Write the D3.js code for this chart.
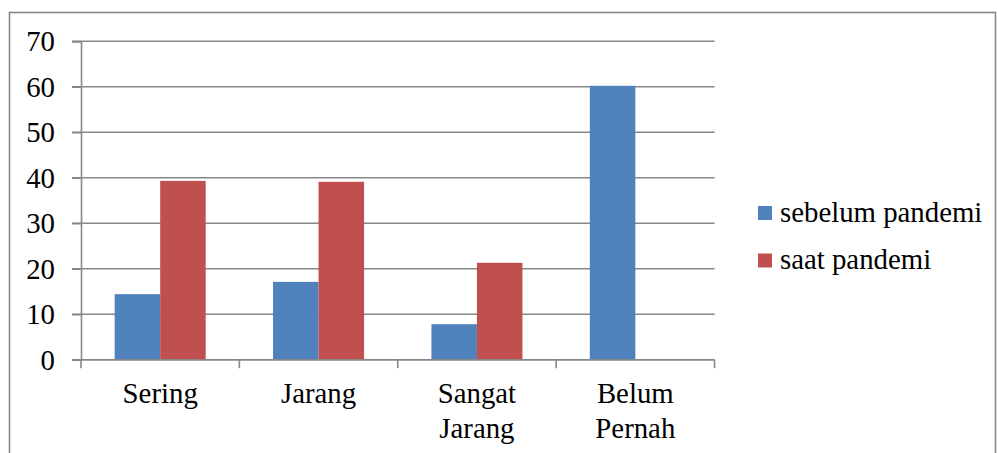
<!DOCTYPE html>
<html>
<head>
<meta charset="utf-8">
<script src="https://cdn.jsdelivr.net/npm/d3@7"></script>
<style>
  html, body { margin: 0; padding: 0; background: #fff; }
  svg { display: block; }
  svg text { font-family: "Liberation Serif", "Times New Roman", serif !important; fill: #000; }
</style>
</head>
<body>
<svg id="chart" width="997" height="453" font-family="Liberation Serif, serif"></svg>
<script>
const categories = [["Sering"], ["Jarang"], ["Sangat", "Jarang"], ["Belum", "Pernah"]];
const seriesNames = ["sebelum pandemi", "saat pandemi"];
const sebelumPandemi = [14.4, 17.1, 7.8, 60.2];
const saatPandemi = [39.3, 39.1, 21.3, 0];
const yTicks = [0, 10, 20, 30, 40, 50, 60, 70];
const colors = ["#4F81BD", "#C0504D"];

const svg = d3.select("#chart");
const fontFam = '"Liberation Serif", "Times New Roman", serif';
const fontSize = 28.8;
const gridColor = "#878787";

// outer chart border
svg.append("rect")
  .attr("x", 9.5).attr("y", 12.5)
  .attr("width", 986).attr("height", 460)
  .attr("fill", "none").attr("stroke", "#878787").attr("stroke-width", 1.6);

const catKeys = categories.map(c => c.join(" "));
const x = d3.scaleBand().domain(catKeys).range([81, 714.5]).paddingInner(0).paddingOuter(0);
const xi = d3.scaleBand().domain(seriesNames).range([0, x.bandwidth()]).paddingInner(0).paddingOuter(0.74);
const y = d3.scaleLinear().domain([0, 70]).range([359.7, 41.2]);

// gridlines
svg.append("g").selectAll("line").data(yTicks).join("line")
  .attr("x1", 72).attr("x2", 714.5)
  .attr("y1", d => y(d)).attr("y2", d => y(d))
  .attr("stroke", gridColor).attr("stroke-width", 1.6);

// y axis
const yAxis = svg.append("g").attr("transform", "translate(81,0)")
  .call(d3.axisLeft(y).tickValues(yTicks).tickSize(9).tickPadding(17).tickFormat(d3.format("d")));
yAxis.attr("font-family", fontFam).attr("font-size", fontSize);
yAxis.select(".domain").attr("stroke", gridColor).attr("stroke-width", 1.6);
yAxis.selectAll(".tick line").attr("stroke", gridColor).attr("stroke-width", 1.6);
yAxis.selectAll(".tick text")
  .style("font-family", fontFam)
  .style("font-size", fontSize + "px").attr("fill", "#000").attr("dy", "0.34em");

// bars
const data = catKeys.map((k, i) => ({ key: k, values: [sebelumPandemi[i], saatPandemi[i]] }));
const groups = svg.append("g").selectAll("g").data(data).join("g")
  .attr("transform", d => `translate(${x(d.key)},0)`);
groups.selectAll("rect").data(d => d.values.map((v, j) => ({ name: seriesNames[j], v, j })))
  .join("rect")
  .attr("x", d => xi(d.name))
  .attr("width", xi.bandwidth())
  .attr("y", d => y(d.v))
  .attr("height", d => y(0) - y(d.v))
  .attr("fill", d => colors[d.j]);

// x axis line
const xAxis = svg.append("g").attr("transform", `translate(0,${y(0)})`);
xAxis.append("line").attr("x1", 72).attr("x2", 714.5).attr("y1", 0).attr("y2", 0)
  .attr("stroke", gridColor).attr("stroke-width", 1.6);
const boundaries = catKeys.map(k => x(k)).concat([x(catKeys[catKeys.length - 1]) + x.bandwidth()]);
xAxis.selectAll("line.tick").data(boundaries).join("line").attr("class", "tick")
  .attr("x1", d => d).attr("x2", d => d).attr("y1", 0).attr("y2", 8.5)
  .attr("stroke", gridColor).attr("stroke-width", 1.6);

// category labels
const labels = svg.append("g").selectAll("text").data(categories).join("text")
  .attr("text-anchor", "middle")
  .style("font-family", fontFam)
  .style("font-size", fontSize + "px")
  .attr("x", (d, i) => x(catKeys[i]) + x.bandwidth() / 2)
  .attr("y", 403);
labels.selectAll("tspan").data(d => d).join("tspan")
  .attr("x", function() { return d3.select(this.parentNode).attr("x"); })
  .attr("dy", (d, i) => i === 0 ? 0 : 34.5)
  .text(d => d);

// legend
const legend = svg.append("g").selectAll("g").data(seriesNames).join("g")
  .attr("transform", (d, i) => `translate(758,${206 + i * 47.5})`);
legend.append("rect").attr("width", 14).attr("height", 14).attr("fill", (d, i) => colors[i]);
legend.append("text").attr("x", 22).attr("y", 15.5)
  .style("font-family", fontFam)
  .style("font-size", fontSize + "px").text(d => d);
</script>
</body>
</html>
